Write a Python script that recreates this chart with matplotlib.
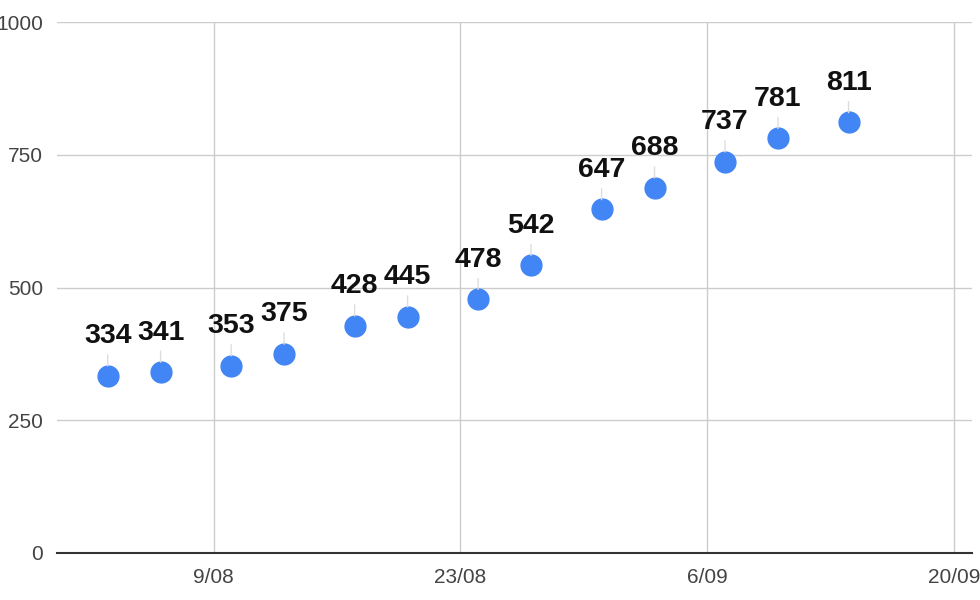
import matplotlib
matplotlib.use('Agg')
import matplotlib.pyplot as plt
import matplotlib.dates as mdates
import datetime as dt

plt.rcParams['font.family'] = ['Liberation Sans', 'DejaVu Sans']

dates = ['2020-08-03', '2020-08-06', '2020-08-10', '2020-08-13', '2020-08-17',
         '2020-08-20', '2020-08-24', '2020-08-27', '2020-08-31', '2020-09-03',
         '2020-09-07', '2020-09-10', '2020-09-14']
values = [334, 341, 353, 375, 428, 445, 478, 542, 647, 688, 737, 781, 811]
tick_dates = ['2020-08-09', '2020-08-23', '2020-09-06', '2020-09-20']
tick_labels = ['9/08', '23/08', '6/09', '20/09']
y_ticks = [0, 250, 500, 750, 1000]

x = [dt.datetime.strptime(d, '%Y-%m-%d') for d in dates]
xt = [dt.datetime.strptime(d, '%Y-%m-%d') for d in tick_dates]

fig = plt.figure(figsize=(9.8, 6), dpi=100)
ax = fig.add_axes([57/980, 47/600, 915/980, 531/600])

ax.plot(x, values, 'o', color='#4285F4', markersize=15, zorder=3)
for xi, v in zip(x, values):
    ax.annotate(str(v), (xi, v), xytext=(0, 19), textcoords='offset points',
                ha='center', va='bottom', fontsize=20.5, fontweight='bold',
                color='#111111',
                arrowprops=dict(arrowstyle='-', color='#dddddd', lw=1,
                                shrinkA=2, shrinkB=7))

ax.set_ylim(0, 1000)
ax.set_yticks(y_ticks)
ax.set_xticks(xt)
ax.set_xticklabels(tick_labels)
ax.set_xlim(mdates.date2num(dt.datetime(2020, 7, 31, 3)),
             mdates.date2num(dt.datetime(2020, 9, 21)))

ax.grid(True, color='#cccccc', lw=1)
ax.set_axisbelow(True)
for s in ['left', 'right', 'top']:
    ax.spines[s].set_visible(False)
ax.spines['bottom'].set_color('#333333')
ax.spines['bottom'].set_linewidth(1.5)
ax.tick_params(length=0, labelsize=15, labelcolor='#444444')
ax.tick_params(axis='y', pad=10)
ax.tick_params(axis='x', pad=11)

plt.savefig('out.png', dpi=100)
